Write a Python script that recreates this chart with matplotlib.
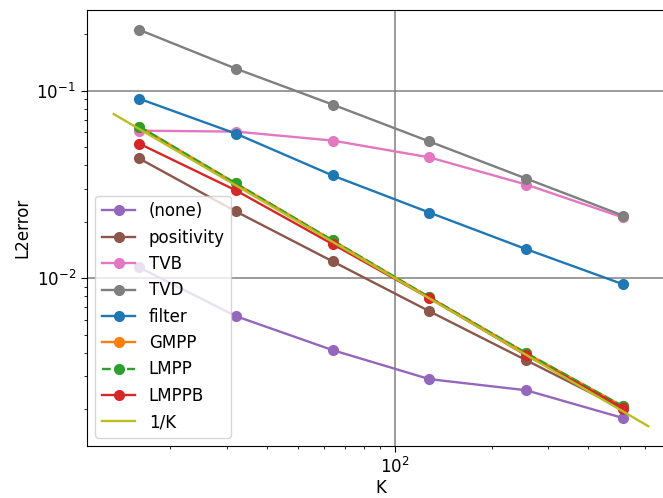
import matplotlib
matplotlib.use("Agg")
import matplotlib.pyplot as plt
import numpy as np

K = [16, 32, 64, 128, 256, 512]
err_none = [0.01144, 0.00628, 0.00414, 0.0029, 0.00253, 0.0018]
err_positivity = [0.0435, 0.0227, 0.0123, 0.00667, 0.00366, 0.00201]
err_tvb = [0.0612, 0.0605, 0.0542, 0.0441, 0.0316, 0.0211]
err_tvd = [0.211, 0.131, 0.0843, 0.0536, 0.034, 0.0216]
err_filter = [0.0906, 0.059, 0.0353, 0.0224, 0.0143, 0.0093]
err_gmpp = [0.0644, 0.032, 0.0159, 0.00792, 0.00399, 0.00208]
err_lmpp = [0.0644, 0.032, 0.0159, 0.00792, 0.00399, 0.00208]
err_lmppb = [0.0522, 0.0294, 0.0152, 0.00783, 0.00389, 0.00204]
ref_K = [16 / 1.2, 512 * 1.2]

plt.rcParams['font.size'] = 12
plt.rcParams['lines.markersize'] = 7
plt.rcParams['lines.linewidth'] = 1.7
plt.rcParams['xtick.major.size'] = 4.5
plt.rcParams['ytick.major.size'] = 4.5
plt.rcParams['xtick.minor.size'] = 2.5
plt.rcParams['ytick.minor.size'] = 2.5

fig = plt.figure(figsize=(6.63, 4.98), dpi=100)
ax = fig.add_axes([87 / 663, 52 / 498, (675 - 87) / 663, (446 - 10) / 498])

ax.loglog(K, err_none, 'o-', color='C4', label='(none)')
ax.loglog(K, err_positivity, 'o-', color='C5', label='positivity')
ax.loglog(K, err_tvb, 'o-', color='C6', label='TVB')
ax.loglog(K, err_tvd, 'o-', color='C7', label='TVD')
ax.loglog(K, err_filter, 'o-', color='C0', label='filter')
ax.loglog(K, err_gmpp, 'o-', color='C1', label='GMPP')
ax.loglog(K, err_lmpp, 'o--', color='C2', label='LMPP')
ax.loglog(K, err_lmppb, 'o-', color='C3', label='LMPPB')
ax.loglog(ref_K, [1.0 / k for k in ref_K], '-', color='C8', label='1/K')

ax.grid(True, which='major', color='gray', linewidth=1.1)
ax.set_xlabel('K', labelpad=1)
ax.set_ylabel('L2error')
ax.legend(loc='lower left')

fig.savefig('out.png', dpi=100)
